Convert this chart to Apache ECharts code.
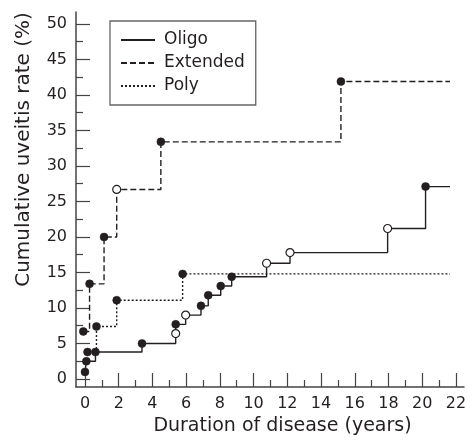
<!DOCTYPE html>
<html>
<head>
<meta charset="utf-8">
<script src="https://cdn.jsdelivr.net/npm/echarts@6/dist/echarts.min.js"></script>
<style>
  html, body { margin: 0; padding: 0; background: #fff; }
  #chart { width: 467px; height: 440px; }
</style>
</head>
<body>
<div id="chart"></div>
<script>
  // Kaplan-Meier style step data: time (years) / cumulative rate (%) / open marker flag
  const oligoT = [0, 0.08, 0.62, 3.38, 5.38, 5.38, 5.97, 6.88, 7.31, 8.05, 8.7, 10.77, 12.16, 17.95, 20.2];
  const oligoV = [1.0, 2.5, 3.8, 5.0, 6.4, 7.7, 9.0, 10.3, 11.8, 13.1, 14.4, 16.3, 17.8, 21.2, 27.1];
  const oligoOpen = [0, 0, 0, 0, 1, 0, 1, 0, 0, 0, 0, 1, 1, 1, 0];

  const extendedT = [-0.1, 0.27, 1.13, 1.88, 4.5, 15.18];
  const extendedV = [6.7, 13.4, 20.0, 26.7, 33.4, 41.9];
  const extendedOpen = [0, 0, 0, 1, 0, 0];

  const polyT = [0.15, 0.68, 1.88, 5.79];
  const polyV = [3.8, 7.4, 11.1, 14.8];
  const polyOpen = [0, 0, 0, 0];

  const seriesNames = ['Oligo', 'Extended', 'Poly'];
  const followUpEnd = [21.65, 21.65, 21.65];

  const xMajorTicks = [0, 2, 4, 6, 8, 10, 12, 14, 16, 18, 20, 22];
  const xMinorTicks = [1, 3, 5, 7, 9, 11, 13, 15, 17, 19, 21];
  const yMajorTicks = [0, 5, 10, 15, 20, 25, 30, 35, 40, 45, 50];
  const yMinorTicks = [2.5, 7.5, 12.5, 17.5, 22.5, 27.5, 32.5, 37.5, 42.5, 47.5];

  let chart = echarts.init(document.getElementById('chart'));

  const ink = '#231f20';
  const axisColor = '#444';
  const font = 'DejaVu Sans';
  const X_MIN = -0.534, X_MAX = 22.48, Y_MIN = -1.127, Y_MAX = 51.69;

  function stepLine(name, t, v, end, dash) {
    let data = t.map((x, i) => [x, v[i]]);
    data.push([end, v[v.length - 1]]);
    return {
      name: name,
      type: 'line',
      step: 'end',
      symbol: 'none',
      silent: true,
      z: 2,
      color: ink,
      itemStyle: { color: ink, opacity: 0 },
      lineStyle: { color: ink, width: 1.4, type: dash },
      data: data
    };
  }

  function dots(t, v, open) {
    return {
      type: 'scatter',
      symbol: 'circle',
      symbolSize: 8,
      silent: true,
      z: 3,
      data: t.map((x, i) => ({
        value: [x, v[i]],
        itemStyle: open[i]
          ? { color: '#fff', borderColor: ink, borderWidth: 1.2, opacity: 1 }
          : { color: ink, borderColor: ink, borderWidth: 0.5, opacity: 1 }
      }))
    };
  }

  function xAxisDef(ticks, len, main) {
    return {
      type: 'value',
      min: X_MIN,
      max: X_MAX,
      position: 'bottom',
      name: main ? 'Duration of disease (years)' : '',
      nameLocation: 'middle',
      nameGap: 29,
      nameTextStyle: { fontFamily: font, fontSize: 19, color: ink, padding: [0, 0, 0, 25] },
      axisLine: { show: main, onZero: false, lineStyle: { color: axisColor, width: 1.5 } },
      axisTick: { show: true, inside: true, length: len, customValues: ticks, lineStyle: { color: axisColor, width: 1.2 } },
      axisLabel: main
        ? { show: true, customValues: ticks, margin: 9, fontFamily: font, fontSize: 16, color: ink }
        : { show: false },
      splitLine: { show: false }
    };
  }

  function yAxisDef(ticks, len, main) {
    return {
      type: 'value',
      min: Y_MIN,
      max: Y_MAX,
      position: 'left',
      name: main ? 'Cumulative uveitis rate (%)' : '',
      nameLocation: 'middle',
      nameGap: 42,
      nameTextStyle: { fontFamily: font, fontSize: 20, color: ink, padding: [0, 0, 0, 100] },
      axisLine: { show: main, onZero: false, lineStyle: { color: axisColor, width: 1.5 } },
      axisTick: { show: true, inside: true, length: len, customValues: ticks, lineStyle: { color: axisColor, width: 1.2 } },
      axisLabel: main
        ? { show: true, customValues: ticks, margin: 9, fontFamily: font, fontSize: 16, color: ink }
        : { show: false },
      splitLine: { show: false }
    };
  }

  let option = {
    animation: false,
    backgroundColor: '#fff',
    color: [ink, ink, ink],
    grid: { left: 76, right: 3, top: 12, bottom: 53, containLabel: false, outerBoundsMode: 'none' },
    legend: {
      data: seriesNames,
      orient: 'vertical',
      left: 110,
      top: 21,
      padding: [9, 11, 9, 10],
      itemWidth: 34,
      itemHeight: 20,
      itemGap: 3,
      borderColor: '#666',
      borderWidth: 1.3,
      selectedMode: false,
      itemStyle: { opacity: 0 },
      textStyle: { fontFamily: font, fontSize: 17, color: ink, lineHeight: 20, padding: [0, 0, 0, 4] }
    },
    xAxis: [xAxisDef(xMajorTicks, 14, true), xAxisDef(xMinorTicks, 7, false)],
    yAxis: [yAxisDef(yMajorTicks, 14, true), yAxisDef(yMinorTicks, 7, false)],
    series: [
      stepLine(seriesNames[0], oligoT, oligoV, followUpEnd[0], 'solid'),
      stepLine(seriesNames[1], extendedT, extendedV, followUpEnd[1], [6, 3]),
      stepLine(seriesNames[2], polyT, polyV, followUpEnd[2], [2, 2]),
      dots(oligoT, oligoV, oligoOpen),
      dots(extendedT, extendedV, extendedOpen),
      dots(polyT, polyV, polyOpen)
    ]
  };
  chart.setOption(option);
</script>
</body>
</html>
